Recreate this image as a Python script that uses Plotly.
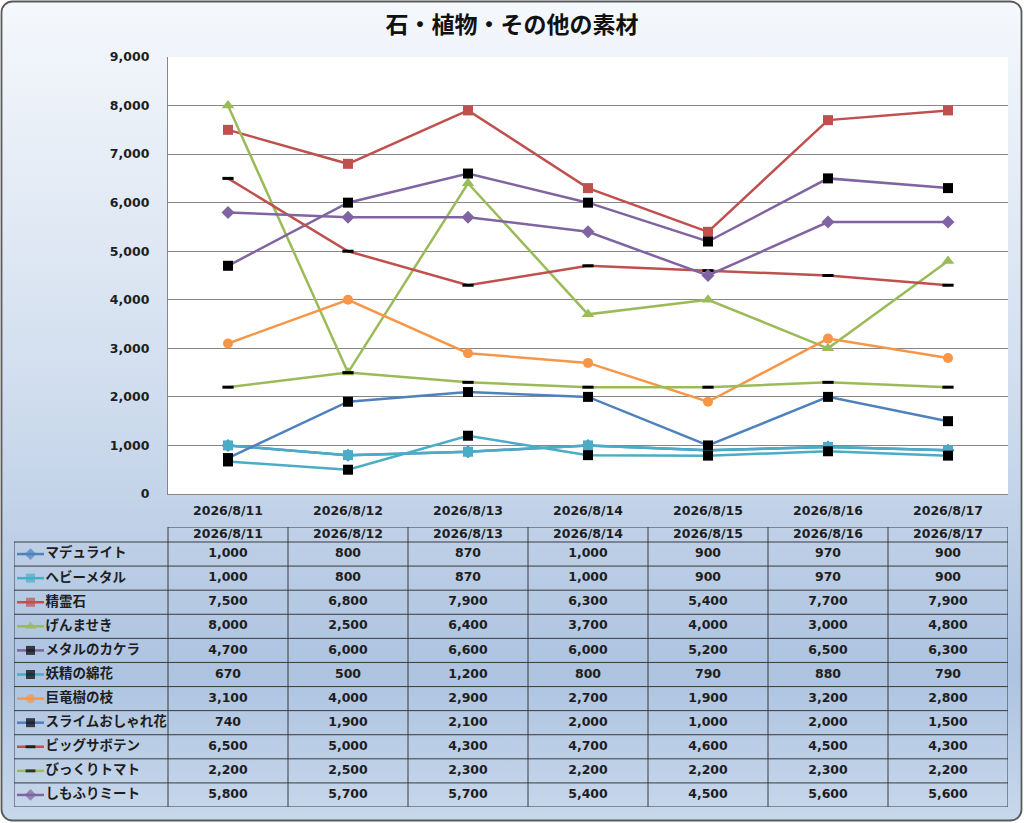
import base64
import plotly.graph_objects as go

# ---------------- data ----------------
dates = ["2026/8/11", "2026/8/12", "2026/8/13", "2026/8/14", "2026/8/15", "2026/8/16", "2026/8/17"]
series_names = ["マデュライト", "ヘビーメタル", "精霊石", "げんませき", "メタルのカケラ", "妖精の綿花",
                "巨竜樹の枝", "スライムおしゃれ花", "ビッグサボテン", "びっくりトマト", "しもふりミート"]
madurite = [1000, 800, 870, 1000, 900, 970, 900]
heavy_metal = [1000, 800, 870, 1000, 900, 970, 900]
seireiseki = [7500, 6800, 7900, 6300, 5400, 7700, 7900]
genmaseki = [8000, 2500, 6400, 3700, 4000, 3000, 4800]
metal_kakera = [4700, 6000, 6600, 6000, 5200, 6500, 6300]
yousei_menka = [670, 500, 1200, 800, 790, 880, 790]
kyoryuju = [3100, 4000, 2900, 2700, 1900, 3200, 2800]
slime_hana = [740, 1900, 2100, 2000, 1000, 2000, 1500]
big_saboten = [6500, 5000, 4300, 4700, 4600, 4500, 4300]
bikkuri_tomato = [2200, 2500, 2300, 2200, 2200, 2300, 2200]
shimofuri = [5800, 5700, 5700, 5400, 4500, 5600, 5600]
y_ticks = [0, 1000, 2000, 3000, 4000, 5000, 6000, 7000, 8000, 9000]
title_text = "石・植物・その他の素材"

all_values = [madurite, heavy_metal, seireiseki, genmaseki, metal_kakera, yousei_menka,
              kyoryuju, slime_hana, big_saboten, bikkuri_tomato, shimofuri]

# ---------------- styles ----------------
BLUE, CYAN, RED, GREEN, PURPLE, ORANGE = "#4F81BD", "#4BACC6", "#C0504D", "#9BBB59", "#8064A2", "#F79646"
styles = [
    dict(color=BLUE, symbol="diamond", mcolor=BLUE, size=10, mline=None),
    dict(color=CYAN, symbol="square", mcolor=CYAN, size=10, mline=None),
    dict(color=RED, symbol="square", mcolor=RED, size=10, mline=None),
    dict(color=GREEN, symbol="triangle-up", mcolor=GREEN, size=11, mline=None),
    dict(color=PURPLE, symbol="square", mcolor="#000000", size=10, mline=None),
    dict(color=CYAN, symbol="square", mcolor="#000000", size=10, mline=None),
    dict(color=ORANGE, symbol="circle", mcolor=ORANGE, size=10, mline=None),
    dict(color=BLUE, symbol="square", mcolor="#000000", size=10, mline=None),
    dict(color=RED, symbol="line-ew", mcolor="#000000", size=8, mline=3),
    dict(color=GREEN, symbol="line-ew", mcolor="#000000", size=8, mline=3),
    dict(color=PURPLE, symbol="diamond", mcolor=PURPLE, size=10, mline=None),
]

NUMFONT = "DejaVu Sans, Noto Sans CJK JP"
JPFONT = "Noto Sans CJK JP"
TXT = "#1e1e1e"
W, H = 1024, 823

# layout geometry (pixels)
PL, PR, PT, PB = 168, 1008, 57, 494
TL, TT, THB, TB = 14, 527, 542, 807

fig = go.Figure()


def marker_dict(st, sizes=None):
    m = dict(symbol=st["symbol"], color=st["mcolor"], size=sizes if sizes is not None else st["size"])
    if st["mline"]:
        m["line"] = dict(color=st["mcolor"], width=st["mline"])
    else:
        m["line"] = dict(width=0)
    return m


# main chart lines
for name, vals, st in zip(series_names, all_values, styles):
    fig.add_trace(go.Scatter(
        x=dates, y=vals, name=name, mode="lines+markers",
        line=dict(color=st["color"], width=2.5),
        marker=marker_dict(st), showlegend=False,
        xaxis="x", yaxis="y", cliponaxis=False,
    ))

# table: row centers
n_rows = len(series_names)
row_h = (TB - THB) / n_rows
row_c = [THB + row_h * (i + 0.5) for i in range(n_rows)]
col_w = (PR - PL) / len(dates)
col_c = [PL + col_w * (j + 0.5) for j in range(len(dates))]

# legend keys in table
for i, st in enumerate(styles):
    fig.add_trace(go.Scatter(
        x=[17, 30.5, 44], y=[row_c[i]] * 3, mode="lines+markers",
        line=dict(color=st["color"], width=2.5),
        marker=marker_dict(st, sizes=[0, st["size"] - 1, 0]),
        showlegend=False, xaxis="x2", yaxis="y2", cliponaxis=False, hoverinfo="skip",
    ))

# table labels
fig.add_trace(go.Scatter(
    x=[45.5] * n_rows, y=row_c, mode="text", text=series_names, textposition="middle right",
    textfont=dict(family=JPFONT, size=13.5, color=TXT, weight="bold"),
    showlegend=False, xaxis="x2", yaxis="y2", cliponaxis=False, hoverinfo="skip",
))

NUMF = dict(family=NUMFONT, size=12.5, color=TXT, weight="bold")

# table header dates
fig.add_trace(go.Scatter(
    x=col_c, y=[(TT + THB) / 2] * len(dates), mode="text", text=dates, textposition="middle center",
    textfont=NUMF,
    showlegend=False, xaxis="x2", yaxis="y2", cliponaxis=False, hoverinfo="skip",
))

# table values
tx, ty, tt = [], [], []
for i, vals in enumerate(all_values):
    for j, v in enumerate(vals):
        tx.append(col_c[j])
        ty.append(row_c[i])
        tt.append(f"{v:,}")
fig.add_trace(go.Scatter(
    x=tx, y=ty, mode="text", text=tt, textposition="middle center",
    textfont=NUMF,
    showlegend=False, xaxis="x2", yaxis="y2", cliponaxis=False, hoverinfo="skip",
))

# table grid shapes
shapes = []
GRID = "#3a3a3a"
shapes.append(dict(type="rect", xref="x domain", yref="y domain", x0=0, x1=1, y0=0, y1=1,
                   fillcolor="white", line=dict(width=0), layer="below"))
shapes.append(dict(type="line", xref="x2", yref="y2", x0=PL, x1=PR, y0=TT, y1=TT, line=dict(color=GRID, width=1)))
for k in range(n_rows + 1):
    yy = THB + row_h * k
    shapes.append(dict(type="line", xref="x2", yref="y2", x0=TL, x1=PR, y0=yy, y1=yy, line=dict(color=GRID, width=1)))
shapes.append(dict(type="line", xref="x2", yref="y2", x0=TL, x1=TL, y0=THB, y1=TB, line=dict(color=GRID, width=1)))
for j in range(len(dates) + 1):
    xx = PL + col_w * j
    shapes.append(dict(type="line", xref="x2", yref="y2", x0=xx, x1=xx, y0=TT, y1=TB, line=dict(color=GRID, width=1)))

# gradient background as svg image
svg = f'''<svg xmlns="http://www.w3.org/2000/svg" width="{W}" height="{H}" viewBox="0 0 {W} {H}" preserveAspectRatio="none">
<defs><linearGradient id="g" x1="0" y1="0" x2="0" y2="1">
<stop offset="0" stop-color="#f5f8fc"/>
<stop offset="0.45" stop-color="#d3dfef"/>
<stop offset="0.82" stop-color="#adc3e0"/>
<stop offset="1" stop-color="#c8d8ec"/>
</linearGradient></defs>
<rect x="1.5" y="1.5" width="{W-4}" height="{H-4}" rx="11" ry="11" fill="url(#g)" stroke="#5a5a5a" stroke-width="1.8"/>
</svg>'''
src = "data:image/svg+xml;base64," + base64.b64encode(svg.encode("utf-8")).decode("ascii")

fig.update_layout(
    width=W, height=H,
    margin=dict(l=0, r=0, t=0, b=0, pad=0, autoexpand=False),
    paper_bgcolor="white", plot_bgcolor="white",
    font=dict(family=JPFONT, size=13, color=TXT),
    hovermode=False,
    title=dict(text=title_text, x=0.5, xanchor="center", xref="paper", y=1 - 25 / H, yanchor="middle",
               yref="container", font=dict(family=JPFONT, size=23, color="#111111", weight="bold")),
    images=[dict(source=src, xref="paper", yref="paper", x=0, y=1, sizex=1, sizey=1,
                 xanchor="left", yanchor="top", sizing="stretch", layer="below")],
    shapes=shapes,
    xaxis=dict(domain=[PL / W, PR / W], type="category", range=[-0.5, len(dates) - 0.5],
               showgrid=False, showline=True, linecolor="#868686", linewidth=1.2,
               ticks="", tickfont=NUMF, automargin=False,
               ticklabelstandoff=5, zeroline=False, fixedrange=True),
    yaxis=dict(domain=[1 - PB / H, 1 - PT / H], range=[0, 9000], tickvals=y_ticks,
               tickformat=",", showgrid=True, gridcolor="#868686", gridwidth=1,
               showline=True, linecolor="#868686", linewidth=1.2, ticks="",
               tickfont=NUMF, automargin=False,
               ticklabelstandoff=15, zeroline=False, fixedrange=True),
    xaxis2=dict(domain=[TL / W, PR / W], range=[TL, PR], visible=False, fixedrange=True, automargin=False),
    yaxis2=dict(domain=[1 - TB / H, 1 - TT / H], range=[TB, TT], visible=False, fixedrange=True, automargin=False),
)

fig.write_html("out.html", config={"displayModeBar": False, "staticPlot": False},
               post_script="document.body.style.margin='0';document.body.style.overflow='hidden';")
